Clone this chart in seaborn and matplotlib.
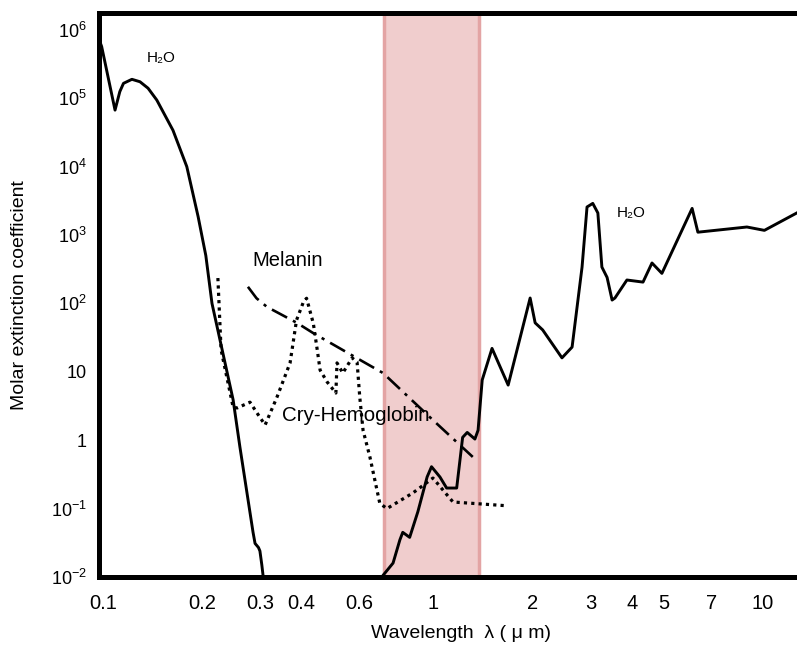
import numpy as np
import pandas as pd
import matplotlib
matplotlib.use("Agg")
import matplotlib.pyplot as plt
from matplotlib.ticker import NullLocator
import seaborn as sns

# ---------------- data ----------------
# Water, UV branch
h2o_uv_wl = [0.0966, 0.0991, 0.1088, 0.1125, 0.1154, 0.1224, 0.1295, 0.137, 0.1456,
             0.163, 0.1795, 0.1943, 0.205, 0.214, 0.248, 0.26, 0.285, 0.289, 0.296, 0.299,
             0.303, 0.306, 0.308]
h2o_uv_k = [8.0e5, 5.7e5, 6.7e4, 1.25e5, 1.65e5, 1.89e5, 1.74e5, 1.4e5, 9.4e4,
            3.4e4, 1.0e4, 1850, 500, 100, 3.9, 0.8, 0.045, 0.031, 0.027, 0.024,
            0.015, 0.010, 0.008]
# Water, visible / IR branch
h2o_ir_wl = [0.70, 0.705, 0.757, 0.794, 0.81, 0.85, 0.90, 0.96, 0.99, 1.05, 1.10, 1.18,
             1.23, 1.27, 1.34, 1.37, 1.41, 1.51, 1.69, 1.97, 2.04, 2.15, 2.46, 2.64,
             2.83, 2.93, 3.05, 3.16, 3.25, 3.37, 3.49, 3.56, 3.87, 4.33, 4.61, 4.94,
             6.1, 6.35, 8.94, 10.1, 13.0]
h2o_ir_k = [0.008, 0.0105, 0.016, 0.035, 0.045, 0.038, 0.09, 0.29, 0.41, 0.29, 0.2, 0.2,
            1.1, 1.3, 1.04, 1.4, 7.6, 22, 6.4, 120, 52, 41, 16, 23,
            340, 2570, 2900, 2100, 340, 240, 112, 120, 220, 205, 390, 275,
            2450, 1100, 1310, 1170, 2250]

# Hemoglobin (dotted)
hb_wl = [0.223, 0.228, 0.248, 0.255, 0.279, 0.293, 0.31, 0.337, 0.369, 0.386, 0.405,
         0.414, 0.434, 0.446, 0.455, 0.478, 0.508, 0.512, 0.533, 0.569, 0.589, 0.60,
         0.614, 0.644, 0.69, 0.725, 0.87, 1.0, 1.09, 1.15, 1.68]
hb_k = [235, 21, 3.05, 2.96, 3.6, 2.5, 1.67, 4.3, 13.5, 57, 105,
        119, 51, 21, 10.6, 7.1, 4.9, 13.5, 9.6, 16, 13.8, 4.3,
        1.4, 0.57, 0.12, 0.10, 0.17, 0.28, 0.17, 0.125, 0.11]

# Melanin (dash-dot)
mel_wl = [0.275, 0.292, 0.314, 0.387, 0.433, 0.589, 0.706, 1.0, 1.32]
mel_k = [175, 119, 89, 52, 37, 15.8, 9.6, 1.97, 0.57]

# Highlighted window
band_lo, band_hi = 0.71, 1.38

xticks = [0.1, 0.2, 0.3, 0.4, 0.6, 1, 2, 3, 4, 5, 7, 10]
xtick_labels = ["0.1", "0.2", "0.3", "0.4", "0.6", "1", "2", "3", "4", "5", "7", "10"]
yticks = [1e-2, 1e-1, 1, 10, 1e2, 1e3, 1e4, 1e5, 1e6]
ytick_labels = [r"$\mathregular{10^{-2}}$", r"$\mathregular{10^{-1}}$", "1", "10",
                r"$\mathregular{10^{2}}$", r"$\mathregular{10^{3}}$",
                r"$\mathregular{10^{4}}$", r"$\mathregular{10^{5}}$",
                r"$\mathregular{10^{6}}$"]

# ---------------- tables ----------------
water = pd.DataFrame({
    "wavelength": h2o_uv_wl + h2o_ir_wl,
    "coefficient": h2o_uv_k + h2o_ir_k,
    "segment": ["uv"] * len(h2o_uv_wl) + ["ir"] * len(h2o_ir_wl),
})
hemo = pd.DataFrame({"wavelength": hb_wl, "coefficient": hb_k})
melanin = pd.DataFrame({"wavelength": mel_wl, "coefficient": mel_k})

# ---------------- style ----------------
sns.set_style("white")
plt.rcParams["font.family"] = ["Liberation Sans", "DejaVu Sans"]
plt.rcParams["mathtext.default"] = "regular"
for key in ["text.color", "axes.labelcolor", "xtick.color", "ytick.color"]:
    plt.rcParams[key] = "black"

fig = plt.figure(figsize=(7.97, 6.49), dpi=100)
ax = fig.add_axes([0.1248, 0.1109, 0.8752, 0.8698])
ax.set_xscale("log")
ax.set_yscale("log")

ax.axvspan(band_lo, band_hi, facecolor="#f0cdcd", edgecolor="#e3a4a4",
           lw=2.5, zorder=0)

sns.lineplot(data=water, x="wavelength", y="coefficient", units="segment",
             estimator=None, sort=False, color="black", lw=2.1, ax=ax)
sns.lineplot(data=hemo, x="wavelength", y="coefficient", estimator=None,
             sort=False, color="black", lw=2.3, linestyle=(0, (1.0, 1.3)), ax=ax)
sns.lineplot(data=melanin, x="wavelength", y="coefficient", estimator=None,
             sort=False, color="black", lw=1.9, linestyle=(0, (6.5, 2.5, 1.2, 2.5)), ax=ax)

ax.set_xlim(0.0976, 12.68)
ax.set_ylim(1e-2, 1.79e6)

ax.set_xticks(xticks)
ax.set_xticklabels(xtick_labels, fontsize=14.5)
ax.set_yticks(yticks)
ax.set_yticklabels(ytick_labels, fontsize=13)
ax.xaxis.set_minor_locator(NullLocator())
ax.yaxis.set_minor_locator(NullLocator())
ax.tick_params(axis="x", length=0, pad=12)
ax.tick_params(axis="y", length=0, pad=9)

for side in ["left", "top", "bottom"]:
    ax.spines[side].set_visible(True)
    ax.spines[side].set_linewidth(3.6)
    ax.spines[side].set_color("black")
ax.spines["right"].set_visible(False)

ax.set_xlabel("Wavelength  λ ( μ m)", fontsize=14)
ax.set_ylabel("Molar extinction coefficient", fontsize=14)
ax.xaxis.set_label_coords(0.519, -0.085)
ax.yaxis.set_label_coords(-0.102, 0.5)

ax.text(0.15, 3.9e5, "H₂O", fontsize=11, ha="center", va="center")
ax.text(4.0, 2100, "H₂O", fontsize=11, ha="center", va="center")
ax.text(0.284, 430, "Melanin", fontsize=14.5, ha="left", va="center")
ax.text(0.349, 2.33, "Cry-Hemoglobin", fontsize=14.8, ha="left", va="center")

fig.savefig("out.png", dpi=100)
